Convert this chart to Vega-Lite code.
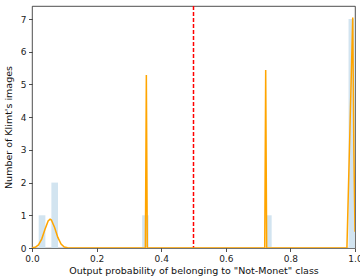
{
  "$schema": "https://vega.github.io/schema/vega-lite/v6.json",
  "autosize": {"type": "none"},
  "padding": {"left": 32, "top": 6, "right": 5, "bottom": 31},
  "width": 323,
  "height": 242,
  "config": {
    "view": {"stroke": "#222", "strokeWidth": 0.8},
    "font": "DejaVu Sans",
    "axis": {
      "grid": false,
      "domain": false,
      "tickColor": "#222",
      "tickSize": 3.5,
      "tickWidth": 0.8,
      "labelPadding": 2.5,
      "labelFontSize": 9,
      "labelColor": "#222",
      "labelOverlap": false,
      "labelFlush": false,
      "titleFontSize": 9.5,
      "titleFontWeight": "normal",
      "titleColor": "#111"
    }
  },
  "datasets": {
    "bins": [
      {"x0": 0.0207, "x1": 0.0414, "count": 1},
      {"x0": 0.0600, "x1": 0.0805, "count": 2},
      {"x0": 0.3410, "x1": 0.3610, "count": 1},
      {"x0": 0.7270, "x1": 0.7420, "count": 1},
      {"x0": 0.9800, "x1": 1.0000, "count": 7}
    ],
    "kde": [
      {"p": 0.0, "d": 0.004},
      {"p": 0.01, "d": 0.023},
      {"p": 0.02, "d": 0.094},
      {"p": 0.03, "d": 0.273},
      {"p": 0.04, "d": 0.565},
      {"p": 0.05, "d": 0.827},
      {"p": 0.056, "d": 0.88},
      {"p": 0.06, "d": 0.856},
      {"p": 0.07, "d": 0.627},
      {"p": 0.08, "d": 0.325},
      {"p": 0.09, "d": 0.119},
      {"p": 0.10, "d": 0.031},
      {"p": 0.11, "d": 0.006},
      {"p": 0.12, "d": 0.0},
      {"p": 0.351, "d": 0.0},
      {"p": 0.3525, "d": 2.6},
      {"p": 0.354, "d": 5.29},
      {"p": 0.3555, "d": 2.6},
      {"p": 0.357, "d": 0.0},
      {"p": 0.7205, "d": 0.0},
      {"p": 0.722, "d": 2.7},
      {"p": 0.7235, "d": 5.44},
      {"p": 0.725, "d": 2.7},
      {"p": 0.7265, "d": 0.0},
      {"p": 0.975, "d": 0.0},
      {"p": 0.984, "d": 3.5},
      {"p": 0.993, "d": 7.05},
      {"p": 0.9965, "d": 3.0},
      {"p": 1.0, "d": 0.5}
    ],
    "threshold": [{"t": 0.5}]
  },
  "layer": [
    {
      "data": {"name": "bins"},
      "mark": {"type": "rect", "color": "#d2e4f0"},
      "encoding": {
        "x": {"field": "x0", "type": "quantitative", "scale": {"domain": [0, 1], "nice": false, "zero": false},
              "axis": {"values": [0, 0.2, 0.4, 0.6, 0.8, 1.0], "format": ".1f", "labelFlush": false,
                       "title": "Output probability of belonging to \"Not-Monet\" class", "titlePadding": 2}},
        "x2": {"field": "x1"},
        "y": {"field": "count", "type": "quantitative", "scale": {"domain": [0, 7.4], "nice": false},
              "axis": {"values": [0, 1, 2, 3, 4, 5, 6, 7], "format": "d", "labelFlush": false, "labelOverlap": false,
                       "title": "Number of Klimt's images", "titlePadding": 7}},
        "y2": {"datum": 0}
      }
    },
    {
      "data": {"name": "threshold"},
      "mark": {"type": "rule", "color": "#ff0000", "strokeWidth": 1.5, "strokeDash": [4, 2]},
      "encoding": {
        "x": {"field": "t", "type": "quantitative",
              "axis": {"values": [0, 0.2, 0.4, 0.6, 0.8, 1.0], "format": ".1f", "labelFlush": false,
                       "title": "Output probability of belonging to \"Not-Monet\" class", "titlePadding": 2}}
      }
    },
    {
      "data": {"name": "kde"},
      "mark": {"type": "line", "color": "#ffa500", "strokeWidth": 1.5, "clip": true},
      "encoding": {
        "x": {"field": "p", "type": "quantitative",
              "axis": {"values": [0, 0.2, 0.4, 0.6, 0.8, 1.0], "format": ".1f", "labelFlush": false,
                       "title": "Output probability of belonging to \"Not-Monet\" class", "titlePadding": 2}},
        "y": {"field": "d", "type": "quantitative",
              "axis": {"values": [0, 1, 2, 3, 4, 5, 6, 7], "format": "d", "labelFlush": false, "labelOverlap": false,
                       "title": "Number of Klimt's images", "titlePadding": 7}}
      }
    }
  ]
}
